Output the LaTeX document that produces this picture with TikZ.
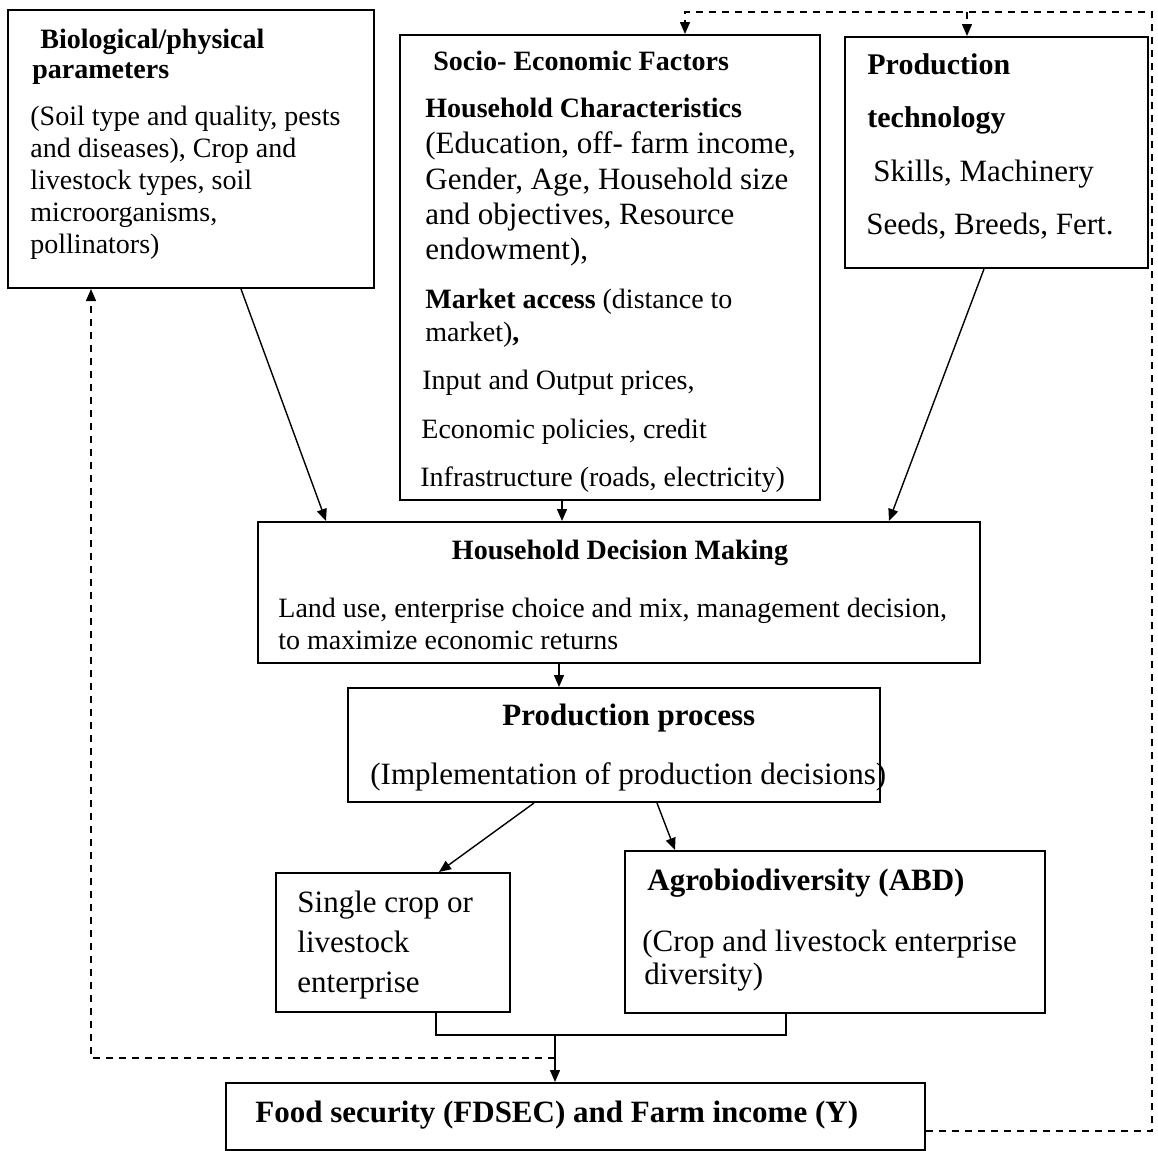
\documentclass[tikz,border=0pt]{standalone}
\usepackage{fontspec}
\setmainfont{Liberation Serif}
\usetikzlibrary{calc,arrows.meta}
\newcommand\fsA{\fontsize{14}{16}\selectfont}
\newcommand\fsB{\fontsize{15.5}{18}\selectfont}
\newcommand\fsC{\fontsize{15}{18}\selectfont}
\begin{document}
\begin{tikzpicture}[x=0.5pt,y=-0.5pt,
  box/.style={draw,line width=1pt,inner sep=0pt},
  arr/.style={-{Triangle[length=6pt,width=5pt]},line width=0.7pt},
  fb/.style={line width=0.7pt,dash pattern=on 3.5pt off 3pt},
  tx/.style={anchor=base west,inner sep=0pt},
  ta/.style={tx,font=\fsA},
  tab/.style={tx,font=\fsA\bfseries},
  tb/.style={tx,font=\fsB},
  tbb/.style={tx,font=\fsB\bfseries}]
\useasboundingbox[fill=white] (0,0) rectangle (1158,1151);

% boxes
\node[box,minimum width=183pt,minimum height=139pt] (bio) at (191,149) {};
\node[box,minimum width=210pt,minimum height=232.5pt] (soc) at (610,267.5) {};
\node[box,minimum width=151.5pt,minimum height=115.5pt] (tech) at (996.5,152.5) {};
\node[box,minimum width=361pt,minimum height=70.5pt] (hdm) at (619,592.5) {};
\node[box,minimum width=266pt,minimum height=57pt] (pp) at (614,745) {};
\node[box,minimum width=117pt,minimum height=69.5pt] (single) at (393,942.5) {};
\node[box,minimum width=210pt,minimum height=81pt] (abd) at (835,932) {};
\node[box,minimum width=349.5pt,minimum height=33.5pt] (food) at (575.5,1116.5) {};

% texts: biological
\node[tab] (bio1) at (40,48) {Biological/physical};
\node[tab] (bio2) at (32,78) {parameters};
\node[ta] (bio3) at (30,125) {(Soil type and quality, pests};
\node[ta] (bio4) at (30,157) {and diseases), Crop and};
\node[ta] (bio5) at (30,189) {livestock types, soil};
\node[ta] (bio6) at (30,221) {microorganisms,};
\node[ta] (bio7) at (30,253) {pollinators)};

% socio-economic
\node[tab] (soc1) at (433,70) {Socio- Economic Factors};
\node[tab] (soc2) at (425,117) {Household Characteristics};
\node[tb] (soc3) at (425,153) {(Education, off- farm income,};
\node[tb] (soc4) at (425,189) {Gender, Age, Household size};
\node[tb] (soc5) at (425,224) {and objectives, Resource};
\node[tb] (soc6) at (425,259) {endowment),};
\node[ta] (soc7) at (425,308) {\textbf{Market access} (distance to};
\node[ta] (soc8) at (425,341) {market)\textbf{,}};
\node[ta] (soc9) at (422,389) {Input and Output prices,};
\node[ta] (soc10) at (421,438) {Economic policies, credit};
\node[ta] (soc11) at (420,486) {Infrastructure (roads, electricity)};

% production technology
\node[tx,font=\fsC\bfseries] (tech1) at (867,74) {Production};
\node[tx,font=\fsC\bfseries] (tech2) at (867,127) {technology};
\node[tb] (tech3) at (873,181) {Skills, Machinery};
\node[tb] (tech4) at (866,234) {Seeds, Breeds, Fert.};

% household decision making
\node[tab,anchor=base] (hdm1) at (620,559) {Household Decision Making};
\node[ta] (hdm2) at (278,617) {Land use, enterprise choice and mix, management decision,};
\node[ta] (hdm3) at (278,649) {to maximize economic returns};

% production process
\node[tbb] (pp1) at (502,725) {Production process};
\node[tb] (pp2) at (370,784) {(Implementation of production decisions)};

% single
\node[tb] (sg1) at (297,912) {Single crop or};
\node[tb] (sg2) at (297,952) {livestock};
\node[tb] (sg3) at (297,992) {enterprise};

% ABD
\node[tbb] (abd1) at (647,890) {Agrobiodiversity (ABD)};
\node[tb] (abd2) at (642,951) {(Crop and livestock enterprise};
\node[tb] (abd3) at (644,984) {diversity)};

% food
\node[tbb] (food1) at (255,1122) {Food security (FDSEC) and Farm income (Y)};

% solid connectors
\coordinate (socbot) at ($(soc.south west)+(163,0)$);
\coordinate (hdmbot) at ($(hdm.south west)+(302,0)$);
\draw[arr] ($(bio.south west)+(234,0)$) -- ($(hdm.north west)+(69,0)$);
\draw[arr] (socbot) -- (socbot |- hdm.north);
\draw[arr] ($(tech.south west)+(140,0)$) -- ($(hdm.north west)+(632,0)$);
\draw[arr] (hdmbot) -- (hdmbot |- pp.north);
\draw[arr] ($(pp.south west)+(187,0)$) -- ($(single.north west)+(164,0)$);
\draw[arr] ($(pp.south west)+(310,0)$) -- ($(abd.north west)+(51,0)$);

% bracket joining single and ABD
\coordinate (join) at (555,1035);
\draw[line width=0.7pt] ($(single.south west)+(161,0)$) |- (join) -| ($(abd.south west)+(162,0)$);
\draw[arr] (join) -- (join |- food.north);

% left feedback (dashed)
\coordinate (fbl) at (555,1058);
\draw[fb,arr] (fbl) -| ($(bio.south west)+(84,0)$);

% right feedback (dashed)
\coordinate (tr) at (1152,12);
\coordinate (soctop) at ($(soc.north west)+(286,0)$);
\coordinate (techtop) at ($(tech.north west)+(123,0)$);
\draw[fb,arr] ($(food.south east)+(0,-20)$) -| (tr) -| (soctop);
\draw[fb,arr] (tr -| techtop) -- (techtop);
\end{tikzpicture}
\end{document}
